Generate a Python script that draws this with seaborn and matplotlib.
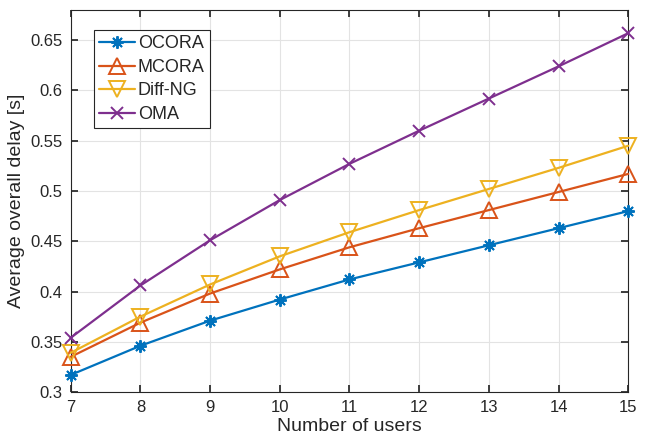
import numpy as np
import pandas as pd
import matplotlib
matplotlib.use("Agg")
import matplotlib.pyplot as plt
import seaborn as sns

users = [7, 8, 9, 10, 11, 12, 13, 14, 15]
ocora = [0.317, 0.346, 0.371, 0.392, 0.412, 0.429, 0.446, 0.463, 0.480]
mcora = [0.335, 0.369, 0.398, 0.422, 0.444, 0.463, 0.481, 0.499, 0.517]
diffng = [0.339, 0.375, 0.407, 0.435, 0.459, 0.481, 0.502, 0.523, 0.545]
oma = [0.354, 0.406, 0.451, 0.491, 0.527, 0.560, 0.592, 0.624, 0.657]
series_names = ["OCORA", "MCORA", "Diff-NG", "OMA"]
yticks = [0.3, 0.35, 0.4, 0.45, 0.5, 0.55, 0.6, 0.65]

sns.set_theme(style="whitegrid")
plt.rcParams['font.family'] = ['Liberation Sans', 'DejaVu Sans']

fig = plt.figure(figsize=(6.49, 4.38), dpi=100)
ax = fig.add_axes([0.109, 0.105, 0.859, 0.872])

colors = ["#0072BD", "#D95319", "#EDB120", "#7E2F8E"]
markers = [(8, 2, 0), "^", "v", "x"]
msizes = [9, 12, 12, 8]
for name, vals, c, m, ms in zip(series_names, [ocora, mcora, diffng, oma], colors, markers, msizes):
    df = pd.DataFrame({"users": users, "delay": vals})
    sns.lineplot(data=df, x="users", y="delay", ax=ax, color=c, marker=m,
                 markersize=ms, markerfacecolor="none", markeredgecolor=c,
                 markeredgewidth=1.4, linewidth=1.6, label=name, clip_on=False,
                 zorder=3)

ax.set_xlim(7, 15)
ax.set_ylim(0.3, 0.68)
ax.set_xticks(users)
ax.set_xticklabels([str(u) for u in users])
ax.set_yticks(yticks)
ax.set_yticklabels([f"{t:g}" for t in yticks])
ax.set_xlabel("Number of users", fontsize=14, labelpad=2)
ax.set_ylabel("Average overall delay [s]", fontsize=14, labelpad=4)
ax.tick_params(axis='both', which='both', direction='in', labelsize=12,
               top=True, right=True, bottom=True, left=True, length=5,
               color="#262626", labelcolor="#262626", pad=6)
ax.grid(True, color="#e3e3e3", linewidth=0.8)
ax.set_facecolor("white")
for s in ax.spines.values():
    s.set_color("#262626")
    s.set_linewidth(0.8)

leg = ax.legend(loc="upper left", bbox_to_anchor=(0.041, 0.948), fontsize=13,
                frameon=True, fancybox=False, edgecolor="#262626",
                borderpad=0.3, labelspacing=0.36, handlelength=2.0,
                handletextpad=0.15, borderaxespad=0)
leg.get_frame().set_linewidth(0.8)
leg.get_frame().set_facecolor("white")
leg.get_frame().set_alpha(1)
leg.set_zorder(5)

fig.savefig("out.png", dpi=100)
